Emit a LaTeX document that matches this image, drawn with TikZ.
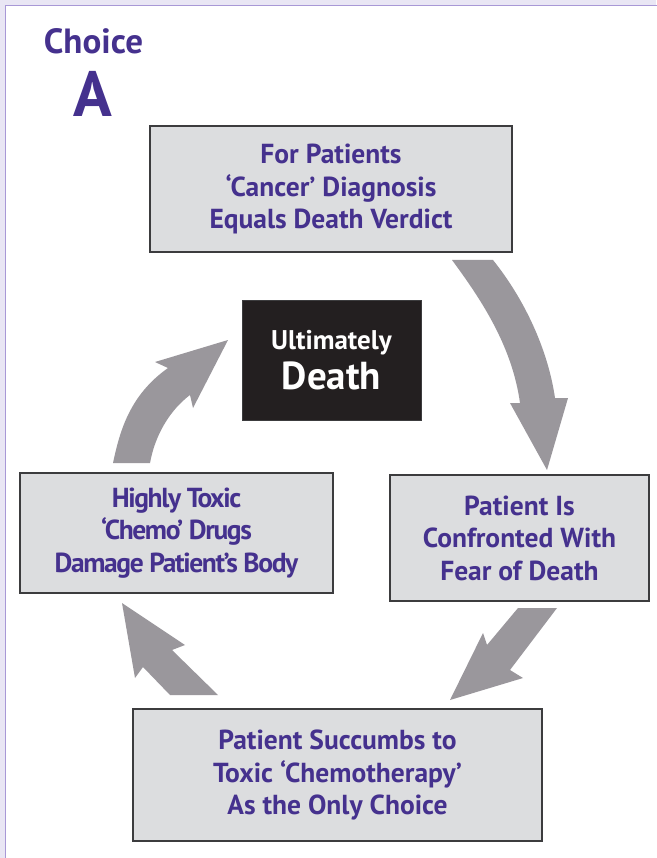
\documentclass[tikz,border=0pt]{standalone}
\usepackage{fontspec}
\setmainfont{PT Sans}
\definecolor{lav}{HTML}{E9E6F4}
\definecolor{lavline}{HTML}{A898D6}
\definecolor{purp}{HTML}{45318E}
\definecolor{boxfill}{HTML}{DCDDDF}
\definecolor{boxline}{HTML}{3C3C3E}
\definecolor{arrgray}{HTML}{9A979C}
\definecolor{deathfill}{HTML}{231F20}
\begin{document}
\begin{tikzpicture}[x=1pt,y=-1pt,
  stagebox/.style={draw=boxline,line width=1.4pt,fill=boxfill,text=purp,
    font=\fontsize{27.5}{32.5}\selectfont\bfseries,align=center,inner sep=0pt},
  bigarrow/.style={fill=arrgray,draw=none}]
\useasboundingbox (0,0) rectangle (656,858);
\fill[lav] (0,0) rectangle (656,858);
\fill[white] (6,6) rectangle (660,862);
\draw[lavline,line width=1.3pt] (5.6,862) -- (5.6,5.6) -- (660,5.6);
% title
\node[text=purp,font=\fontsize{35}{36}\selectfont\bfseries] (choice) at (93.5,41) {Choice};
\node[text=purp,font=\fontsize{64}{66}\selectfont\bfseries] (letter) at (93,94) {A};
% boxes
\node[stagebox,minimum width=362pt,minimum height=126pt] (top) at (331,189)
  {For Patients\\ ‘Cancer’ Diagnosis\\ Equals Death Verdict};
\node[fill=deathfill,draw=boxline,line width=1pt,text=white,align=center,inner sep=0pt,
  minimum width=179pt,minimum height=120pt] (death) at (331.5,360)
  {\fontsize{27}{30}\selectfont\bfseries Ultimately\\[6pt] \fontsize{39}{40}\selectfont\bfseries Death};
\node[stagebox,minimum width=259pt,minimum height=126pt] (right) at (519.5,538)
  {Patient Is\\ Confronted With\\ Fear of Death};
\node[stagebox,minimum width=409pt,minimum height=132pt] (bottom) at (337.5,775)
  {Patient Succumbs to\\ Toxic ‘Chemotherapy’\\ As the Only Choice};
\node[stagebox,minimum width=313pt,minimum height=120pt,
  font=\fontsize{27.5}{32.5}\selectfont\bfseries\addfontfeatures{LetterSpace=-5}] (left) at (176.5,533)
  {Highly Toxic\\ ‘Chemo’ Drugs\\ Damage Patient’s Body};
% arrows
\fill[bigarrow] (452,260) .. controls (480,298) and (512,345) .. (520,403)
  -- (510,403) -- (547,470) -- (568,398) -- (555,398)
  .. controls (548,350) and (525,300) .. (493,260) -- cycle;
\fill[bigarrow] (518,608) -- (557,608) -- (510,670) -- (523,678) -- (450,700)
  -- (483,633) -- (487,645) -- cycle;
\fill[bigarrow] (218,695) -- (170,695) -- (143,667) -- (135,678) -- (122,603)
  -- (185,645) -- (172,650) -- cycle;
\fill[bigarrow] (113,463) .. controls (120,430) and (130,395) .. (168,368)
  -- (155,362) -- (228,340) -- (193,408) -- (190,395)
  .. controls (170,410) and (155,435) .. (150,463) -- cycle;
\end{tikzpicture}
\end{document}
